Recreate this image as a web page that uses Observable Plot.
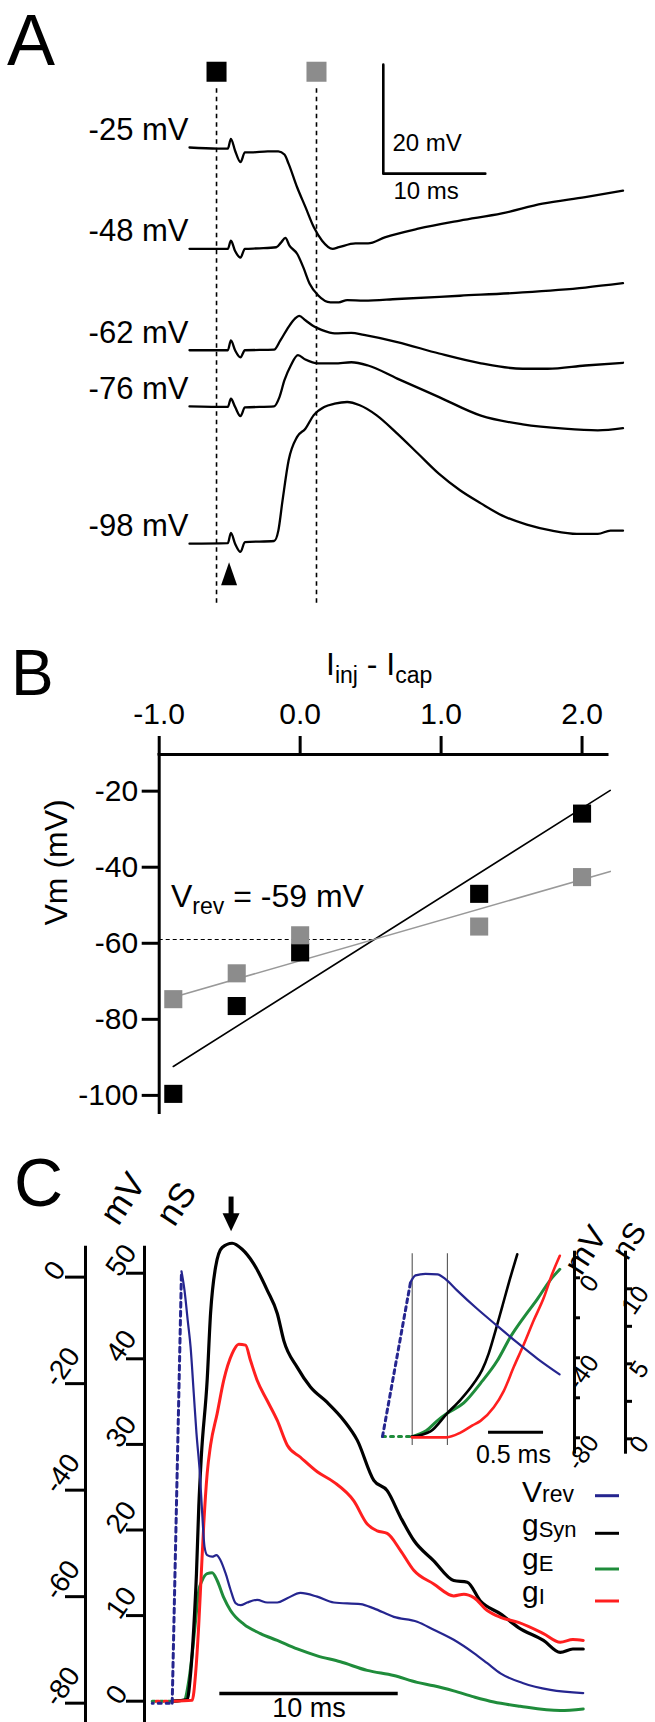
<!DOCTYPE html>
<html><head><meta charset="utf-8">
<script src="https://cdn.jsdelivr.net/npm/d3@7"></script>
<script src="https://cdn.jsdelivr.net/npm/@observablehq/plot@0.6"></script>
<style>
body{margin:0;background:#fff;}
#fig{position:relative;width:655px;height:1722px;overflow:hidden;background:#fff;}
#fig svg{position:absolute;left:0;}
</style></head><body><div id="fig"></div>
<script>
// ---------------- DATA ----------------
// Panel A: voltage traces, [time (ms), change from holding potential (mV)]
const traceLabels = ["-25 mV", "-48 mV", "-62 mV", "-76 mV", "-98 mV"];
const trace25 = [[0,0],[2.75,-0.2],[3.76,-0.2],[4.06,1.6],[4.47,-0.6],[5.0,-2.7],[5.43,-0.9],[6.04,-0.9],[7.67,-0.7],[8.71,-0.7],[9.31,-1.3],[9.72,-3.0],[10.55,-7.3],[11.36,-10.9],[12.18,-14.6],[13.0,-17.1],[14.03,-18.6],[14.64,-18.3],[16.27,-17.6],[17.51,-17.6],[19.14,-16.5],[22.42,-14.9],[26.52,-13.4],[30.62,-12.1],[34.61,-10.3],[38.8,-9.1],[42.5,-7.9]];
const trace48 = [[0,0],[3.76,0],[4.06,1.5],[4.47,-0.4],[5.0,-1.6],[5.43,0],[6.86,0.1],[8.5,0.3],[8.99,1.2],[9.4,2.0],[9.8,0.6],[10.55,-0.9],[11.16,-3.4],[11.78,-6.4],[12.6,-8.5],[13.82,-9.8],[14.64,-9.8],[15.46,-9.4],[17.1,-9.5],[20.37,-9.2],[26.52,-8.6],[32.66,-8.0],[38.8,-7.1],[42.5,-6.3]];
const trace62 = [[0,0],[3.76,0],[4.06,1.8],[4.47,0],[5.0,-1.3],[5.43,0],[8.29,0.1],[8.91,1.8],[9.72,4.3],[10.34,5.8],[10.75,6.3],[11.36,5.5],[12.18,4.4],[13.0,3.7],[14.23,3.1],[15.87,3.2],[17.1,2.8],[20.37,1.5],[24.47,-0.6],[28.57,-2.4],[32.66,-3.4],[35.12,-3.4],[38.8,-2.8],[42.5,-2.3]];
const trace76 = [[0,0],[3.76,-0.1],[4.06,1.4],[4.47,-0.1],[5.0,-1.8],[5.43,-0.2],[8.29,0],[8.82,1.7],[9.31,4.8],[9.93,7.5],[10.63,9.4],[11.36,8.6],[12.6,7.9],[14.23,7.9],[15.87,8.1],[17.51,7.5],[20.37,5.1],[24.47,1.7],[28.57,-1.7],[32.66,-3.3],[36.75,-4.1],[40.03,-4.4],[42.5,-4.0]];
const trace98 = [[0,0],[3.76,0.1],[4.06,2.0],[4.47,0],[5.0,-1.5],[5.43,0.3],[8.29,0.5],[8.71,2.4],[9.12,7.9],[9.72,15.3],[10.55,19.6],[11.36,21.1],[12.18,23.6],[13.2,25.1],[14.23,25.7],[15.46,26.0],[16.69,25.4],[18.32,23.6],[20.37,20.2],[22.42,16.5],[24.47,12.8],[26.52,9.8],[28.57,7.4],[30.62,5.2],[33.07,3.5],[35.53,2.4],[37.98,1.8],[40.03,1.8],[41.27,2.4],[42.5,2.4]];
const traces = [trace25, trace48, trace62, trace76, trace98];
const markerTimes = [2.65, 12.45];          // ms, black and gray sampling times
const stimTime = 3.88;                      // ms, stimulus (arrowhead)

// Panel B: I-V relation
const currents = [-0.9, -0.45, 0.0, 1.27, 2.0];
const vmEarly = [-99.6, -76.5, -62.4, -47.0, -25.9];   // black squares
const vmLate = [-74.7, -67.9, -57.9, -55.6, -42.6];    // gray squares
const fitEarly = [[-0.9, -92.4], [2.2, -19.8]];
const fitLate = [[-0.9, -74.2], [2.2, -41.1]];
const vRev = -59, vRevCross = 0.53;
const iTicks = [-1, 0, 1, 2];
const vTicks = [-20, -40, -60, -80, -100];

// Panel C: time (ms) vs Vrev (mV) and conductances (nS)
const vrevDash = [[0, -80], [0.52, 1.1]];
const vrevC = [[0.52,1.1],[0.69,-2.5],[0.87,-8.1],[1.03,-13.1],[1.21,-21.9],[1.36,-29.3],[1.55,-36.8],[1.68,-44.3],[1.81,-50.6],[1.96,-52.2],[2.24,-52.5],[2.48,-52.2],[2.70,-53.1],[2.99,-55.6],[3.27,-58.7],[3.55,-61.2],[3.83,-61.6],[4.20,-61.1],[4.76,-60.6],[5.33,-61.1],[5.89,-61.1],[6.45,-60.3],[7.19,-59.3],[8.13,-60.0],[9.06,-61.1],[10.56,-61.4],[11.30,-62.2],[12.42,-63.8],[13.73,-64.7],[14.66,-66.2],[15.78,-68.1],[16.91,-70.6],[17.66,-72.5],[18.40,-74.4],[19.64,-76.2],[21.2,-77.5],[23.04,-78.1]];
const gSyn = [[0,0],[0.84,0.2],[1.03,3.2],[1.21,8.6],[1.36,14.9],[1.49,22.7],[1.63,28.5],[1.96,37.5],[2.15,45.3],[2.43,50.7],[2.80,53.0],[3.36,53.5],[3.92,52.8],[4.57,51.1],[5.33,48.0],[5.89,45.3],[6.26,42.1],[7.01,39.0],[7.75,36.7],[8.69,34.9],[9.62,32.8],[10.37,30.5],[11.30,25.8],[12.05,24.6],[12.80,21.5],[13.54,18.8],[14.66,16.4],[15.78,14.1],[16.54,13.9],[17.28,11.7],[18.40,10.2],[19.41,8.6],[20.81,7.1],[21.75,5.7],[22.46,6.1],[23.04,6.1]];
const gI = [[0,0],[1.12,0.1],[1.31,3.2],[1.49,9.0],[1.63,14.9],[1.77,20.7],[1.96,26.6],[2.15,29.9],[2.52,33.6],[2.89,37.5],[3.36,40.6],[3.73,41.7],[4.11,41.6],[4.39,39.8],[4.76,37.5],[5.33,35.1],[5.89,32.8],[6.45,29.9],[7.19,28.5],[8.13,26.8],[9.06,25.6],[10.18,23.4],[10.93,20.7],[11.49,19.9],[12.05,19.6],[12.80,17.6],[13.54,15.3],[14.66,13.7],[15.78,12.3],[16.35,12.5],[16.91,12.1],[17.66,10.6],[18.40,9.8],[19.41,9.2],[20.81,7.9],[21.75,6.9],[22.46,7.2],[23.04,7.1]];
const gE = [[0,0],[0.65,0.1],[0.93,2.4],[1.12,5.5],[1.31,9.4],[1.49,12.9],[1.68,14.1],[1.96,14.9],[2.24,15.0],[2.52,14.1],[2.89,12.1],[3.27,10.6],[4.01,9.0],[4.95,7.9],[5.89,7.1],[7.01,6.1],[8.13,5.3],[9.43,4.6],[10.93,3.6],[12.42,3.0],[13.73,2.2],[14.66,1.8],[15.78,1.2],[16.91,0.5],[18.03,-0.1],[19.5,-0.6],[21.75,-1.1],[23.04,-0.9]];
const preBaseline = [-1.12, 0];             // ms, dotted pre-stimulus segment
const peakTime = 3.3;                       // ms, arrow
const mvTicks = [0, -20, -40, -60, -80];
const nsTicks = [0, 10, 20, 30, 40, 50];

// Inset: time (ms, expanded)
const insVrevDash = [[0, -79.4], [0.255, -2.2]];
const insVrev = [[0.255,-2.2],[0.30,1.2],[0.39,2.0],[0.50,1.7],[0.57,-0.5],[0.68,-6.4],[0.86,-15.5],[1.04,-23.9],[1.22,-32.2],[1.41,-40.5],[1.61,-48.3]];
const insSyn = [[0.267,0.15],[0.436,0.5],[0.588,1.7],[0.709,2.6],[0.83,3.7],[0.906,4.6],[0.966,5.7],[1.027,7.2],[1.088,8.8],[1.164,10.8],[1.225,12.3]];
const insE = [[0.267,0.15],[0.40,0.55],[0.497,1.2],[0.588,1.7],[0.739,2.4],[0.891,3.7],[1.043,5.2],[1.164,6.8],[1.285,8.1],[1.406,9.3],[1.527,10.6],[1.612,11.3]];
const insI = [[0.267,0.1],[0.582,0.1],[0.705,0.4],[0.818,0.9],[0.891,1.2],[1.012,2.1],[1.103,3.2],[1.194,4.8],[1.285,6.3],[1.375,7.9],[1.466,9.4],[1.543,11.0],[1.612,12.2]];
const insMarks = [0.27, 0.59];
const insMvTicks = [0, -20, -40, -60, -80], insMvLabels = [0, -40, -80];
const insNsTicks = [0, 2.5, 5, 7.5, 10], insNsLabels = [0, 5, 10];

// ---------------- LAYOUT / STYLE ----------------
const W = 655;
const FONT = "'Liberation Sans', Arial, Helvetica, sans-serif";
const fig = document.getElementById("fig");
const baseStyle = {fontFamily: FONT, background: "transparent", overflow: "visible", color: "black"};
const BLUE = "#25258f", GREEN = "#1f8c3b", RED = "#ff1f1f", GRAY = "#8c8c8c";
const X = d => d[0], Y = d => d[1];
function place(svg, top) { svg.style.top = top + "px"; fig.appendChild(svg); return svg; }
function rich(svg, x, y, size, parts) {
  const t = d3.select(svg).append("text").attr("x", x).attr("y", y)
    .attr("text-anchor", "start")
    .attr("font-family", FONT).attr("font-size", size).attr("fill", "black");
  for (const p of parts) {
    const s = t.append("tspan").text(p.t);
    if (p.size) s.attr("font-size", p.size);
    if (p.dy) s.attr("dy", p.dy);
  }
  return t;
}
const upTri = {draw(c, size) { const r = Math.sqrt(size / Math.PI); c.moveTo(0, -1.44 * r); c.lineTo(r, 1.44 * r); c.lineTo(-r, 1.44 * r); c.closePath(); }};
const downTri = {draw(c, size) { const r = Math.sqrt(size / Math.PI); c.moveTo(-r, -r); c.lineTo(r, -r); c.lineTo(0, 1.1 * r); c.closePath(); }};

// ---------------- PANEL A ----------------
const stackOffset = [0, -18.6, -37.2, -47.5, -72.7];
const aPx = 5.45; // px per mV
const traceRows = traces.flatMap((tr, i) => tr.map(([t, v]) => ({trace: traceLabels[i], t, v: v + stackOffset[i]})));
const plotA = Plot.plot({
  width: W, height: 620, margin: 0, style: baseStyle,
  x: {domain: [0, 42.5], range: [189, 622.5], axis: null},
  y: {domain: [-90, 20], range: [147 + 90 * aPx, 147 - 20 * aPx], axis: null},
  marks: [
    Plot.ruleX(markerTimes, {x: d => d, y1: 10.8, y2: -84, stroke: "black", strokeWidth: 1.6, strokeDasharray: "4.5,4"}),
    Plot.line(traceRows, {x: "t", y: "v", z: "trace", stroke: "black", strokeWidth: 2.3, curve: "monotone-x"}),
    Plot.dot([markerTimes[0]], {x: d => d, y: 13.9, symbol: "square", r: 11.3, fill: "black", stroke: null}),
    Plot.dot([markerTimes[1]], {x: d => d, y: 13.9, symbol: "square", r: 11.3, fill: GRAY, stroke: null}),
    Plot.line([[19, 15.2], [19, -4.8], [29, -4.8]], {x: X, y: Y, stroke: "black", strokeWidth: 2.6}),
    Plot.text(["20 mV"], {x: 19.9, y: -0.7, text: d => d, textAnchor: "start", lineAnchor: "bottom", fontSize: 24}),
    Plot.text(["10 ms"], {x: 20.0, y: -9.4, text: d => d, textAnchor: "start", lineAnchor: "bottom", fontSize: 24}),
    Plot.text(traceLabels, {x: 0, y: (d, i) => stackOffset[i] + 1.4, text: d => d, textAnchor: "end", lineAnchor: "bottom", dx: -1, fontSize: 31}),
    Plot.dot([stimTime], {x: d => d, y: -78.2, symbol: upTri, r: 8, fill: "black", stroke: null})
  ]
});
place(plotA, 0);
rich(plotA, 7, 65, 72, [{t: "A"}]);

// ---------------- PANEL B ----------------
const B_TOP = 620;
const rowsB = currents.map((c, i) => ({c, early: vmEarly[i], late: vmLate[i]}));
const plotB = Plot.plot({
  width: W, height: 500, marginTop: 134, marginBottom: 8, marginLeft: 158.7, marginRight: 48.5,
  style: baseStyle,
  x: {domain: [-1, 2.177], axis: null},
  y: {domain: [-104.5, -10.36], axis: null},
  marks: [
    Plot.frame({anchor: "top", strokeWidth: 3}),
    Plot.frame({anchor: "left", strokeWidth: 3}),
    Plot.axisX({anchor: "top", ticks: iTicks, tickSize: 19, tickPadding: 12, strokeWidth: 3, tickFormat: d => d.toFixed(1), fontSize: 30, label: null}),
    Plot.axisY({anchor: "left", ticks: vTicks, tickSize: 17, tickPadding: 4, strokeWidth: 3, tickFormat: d => String(d), fontSize: 30, label: null}),
    Plot.text(["Vm (mV)"], {frameAnchor: "left", dx: -102.7, dy: -8, rotate: -90, text: d => d, fontSize: 32}),
    Plot.ruleY([vRev], {x1: -1, x2: vRevCross, stroke: "black", strokeWidth: 1.1, strokeDasharray: "4,3"}),
    Plot.line(fitEarly, {x: X, y: Y, stroke: "black", strokeWidth: 1.6}),
    Plot.line(fitLate, {x: X, y: Y, stroke: "#999", strokeWidth: 1.6}),
    Plot.dot(rowsB, {x: "c", y: "early", symbol: "square", r: 10.2, fill: "black", stroke: null}),
    Plot.dot(rowsB, {x: "c", y: "late", symbol: "square", r: 10.2, fill: GRAY, stroke: null})
  ]
});
place(plotB, B_TOP);
rich(plotB, 11, 695 - B_TOP, 64, [{t: "B"}]);
rich(plotB, 326, 675 - B_TOP, 32, [{t: "I"}, {t: "inj", size: 23, dy: 8}, {t: " - ", dy: -8}, {t: "I"}, {t: "cap", size: 23, dy: 8}]);
rich(plotB, 171, 907 - B_TOP, 32, [{t: "V"}, {t: "rev", size: 23, dy: 7}, {t: " = -59 mV", dy: -7}]);

// ---------------- PANEL C ----------------
const C_TOP = 1130, C_H = 592;
const cX = {domain: [-1.2, 23.1], range: [171.7 - 1.2 * 17.84, 171.7 + 23.1 * 17.84], axis: null};
const preRows = preBaseline.map(t => [t, 0]);
const plotCnS = Plot.plot({
  width: W, height: C_H, marginTop: 116.7, marginBottom: 0, marginLeft: 144, marginRight: 0,
  style: baseStyle, x: cX, y: {domain: [-2.49, 53.04], axis: null},
  marks: [
    Plot.frame({anchor: "left", strokeWidth: 3}),
    Plot.axisY({anchor: "left", ticks: nsTicks, tickSize: 18, strokeWidth: 3, tickFormat: () => "", label: null}),
    Plot.text(nsTicks, {y: d => d, frameAnchor: "left", dx: -32, rotate: -55, text: d => String(d), fontSize: 28}),
    Plot.text(["nS"], {frameAnchor: "top-left", dx: 9, dy: -32.7, rotate: -57, text: d => d, fontSize: 35}),
    Plot.line(preRows, {x: X, y: Y, stroke: GREEN, strokeWidth: 3, strokeDasharray: "3,5"}),
    Plot.line(preRows, {x: X, y: Y, stroke: RED, strokeWidth: 3, strokeDasharray: "3,5", strokeDashoffset: 4}),
    Plot.line(gE, {x: X, y: Y, stroke: GREEN, strokeWidth: 3, curve: "monotone-x"}),
    Plot.line(gSyn, {x: X, y: Y, stroke: "black", strokeWidth: 3.2, curve: "monotone-x"}),
    Plot.line(gI, {x: X, y: Y, stroke: RED, strokeWidth: 3, curve: "monotone-x"}),
    Plot.ruleX([peakTime], {x: d => d, y1: 58.9, y2: 56.3, strokeWidth: 5, stroke: "black"}),
    Plot.dot([peakTime], {x: d => d, y: 56.0, symbol: downTri, r: 8.5, fill: "black", stroke: null}),
    Plot.ruleY([0.9], {x1: 2.67, x2: 12.67, stroke: "black", strokeWidth: 3.5}),
    Plot.text(["10 ms"], {x: 7.67, y: -1.85, text: d => d, lineAnchor: "bottom", fontSize: 27})
  ]
});
place(plotCnS, C_TOP);
const plotCmV = Plot.plot({
  width: W, height: C_H, marginTop: 116.7, marginBottom: 0, marginLeft: 85, marginRight: 0,
  style: baseStyle, x: cX, y: {domain: [-83.63, 5.62], axis: null},
  marks: [
    Plot.frame({anchor: "left", strokeWidth: 3}),
    Plot.axisY({anchor: "left", ticks: mvTicks, tickSize: 20, strokeWidth: 3, tickFormat: () => "", label: null}),
    Plot.text(mvTicks, {y: d => d, frameAnchor: "left", dx: -35, rotate: -55, text: d => String(d), fontSize: 28}),
    Plot.text(["mV"], {frameAnchor: "top-left", dx: 12, dy: -33.7, rotate: -57, text: d => d, fontSize: 35}),
    Plot.line(preBaseline.map(t => [t, -80]), {x: X, y: Y, stroke: BLUE, strokeWidth: 3, strokeDasharray: "3,5", strokeDashoffset: 2}),
    Plot.line(vrevDash, {x: X, y: Y, stroke: BLUE, strokeWidth: 3, strokeDasharray: "5,4"}),
    Plot.line(vrevC, {x: X, y: Y, stroke: BLUE, strokeWidth: 2.2, curve: "monotone-x"})
  ]
});
place(plotCmV, C_TOP);

// Inset
const insX = {domain: [0, 1.62], range: [382, 382 + 1.62 * 110], axis: null};
const plotInsNs = Plot.plot({
  width: W, height: C_H, marginTop: 121.7, marginBottom: 270.3, marginLeft: 382, marginRight: 30,
  style: baseStyle, x: insX, y: {domain: [-0.89, 12.44], axis: null},
  marks: [
    Plot.frame({anchor: "right", strokeWidth: 3}),
    Plot.axisY({anchor: "right", ticks: insNsTicks, tickSize: 6, strokeWidth: 3, tickFormat: () => "", label: null}),
    Plot.text(insNsLabels, {y: d => d, frameAnchor: "right", dx: 18, rotate: -55, text: d => String(d), fontSize: 25}),
    Plot.text(["nS"], {frameAnchor: "top-right", dx: 4, dy: -33, rotate: -57, text: d => d, fontSize: 30}),
    Plot.ruleX(insMarks, {x: d => d, y1: 12.33, y2: -0.45, stroke: "#555", strokeWidth: 1.1}),
    Plot.line([[0, 0.15], [0.267, 0.15]], {x: X, y: Y, stroke: GREEN, strokeWidth: 3, strokeDasharray: "3,5"}),
    Plot.line(insE, {x: X, y: Y, stroke: GREEN, strokeWidth: 3, curve: "monotone-x"}),
    Plot.line(insSyn, {x: X, y: Y, stroke: "black", strokeWidth: 2.6, curve: "monotone-x"}),
    Plot.line(insI, {x: X, y: Y, stroke: RED, strokeWidth: 2.6, curve: "monotone-x"}),
    Plot.ruleY([0.44], {x1: 0.964, x2: 1.464, stroke: "black", strokeWidth: 3}),
    Plot.text(["0.5 ms"], {x: 1.19, y: -1.6, text: d => d, lineAnchor: "bottom", fontSize: 25})
  ]
});
place(plotInsNs, C_TOP);
const plotInsMv = Plot.plot({
  width: W, height: C_H, marginTop: 121.7, marginBottom: 270.3, marginLeft: 382, marginRight: 81,
  style: baseStyle, x: insX, y: {domain: [-87.2, 12.8], axis: null},
  marks: [
    Plot.frame({anchor: "right", strokeWidth: 3}),
    Plot.axisY({anchor: "right", ticks: insMvTicks, tickSize: 5, strokeWidth: 3, tickFormat: () => "", label: null}),
    Plot.text(insMvLabels, {y: d => d, frameAnchor: "right", dx: 19, rotate: -55, text: d => String(d), fontSize: 25}),
    Plot.text(["mV"], {frameAnchor: "top-right", dx: 14, dy: -29.7, rotate: -57, text: d => d, fontSize: 33}),
    Plot.line(insVrevDash, {x: X, y: Y, stroke: BLUE, strokeWidth: 3, strokeDasharray: "4,4"}),
    Plot.line(insVrev, {x: X, y: Y, stroke: BLUE, strokeWidth: 2.2, curve: "monotone-x"})
  ]
});
place(plotInsMv, C_TOP);

// Panel letter and legend
rich(plotCmV, 14, 1206 - C_TOP, 68, [{t: "C"}]);
const legend = [
  {y: 1502, ly: 1495.7, c: BLUE, parts: [{t: "V"}, {t: "rev", size: 23}]},
  {y: 1535, ly: 1533.3, c: "black", parts: [{t: "g"}, {t: "Syn", size: 22, dy: 2}]},
  {y: 1569, ly: 1569, c: GREEN, parts: [{t: "g"}, {t: "E", size: 22, dy: 2}]},
  {y: 1602, ly: 1601, c: RED, parts: [{t: "g"}, {t: "I", size: 22, dy: 2}]}
];
for (const L of legend) {
  rich(plotCmV, 522, L.y - C_TOP, 30, L.parts);
  d3.select(plotCmV).append("line").attr("x1", 595).attr("x2", 619)
    .attr("y1", L.ly - C_TOP).attr("y2", L.ly - C_TOP).attr("stroke", L.c).attr("stroke-width", 3);
}
</script></body></html>
